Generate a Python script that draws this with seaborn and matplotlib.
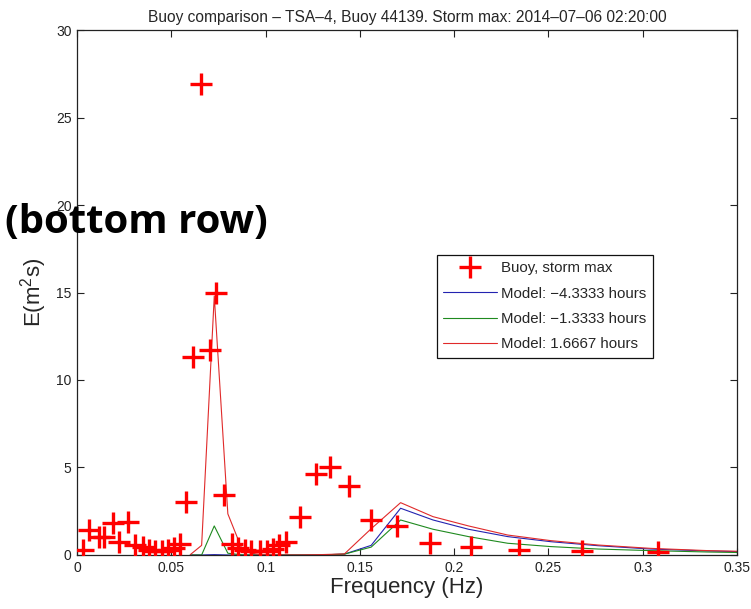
import numpy as np
import pandas as pd
import matplotlib
matplotlib.use("Agg")
import matplotlib.pyplot as plt
from matplotlib.lines import Line2D
import seaborn as sns

# Buoy spectrum at storm maximum
buoy_freq = [0.0030, 0.0065, 0.0115, 0.0145, 0.0190, 0.0225, 0.0270, 0.0310,
             0.0350, 0.0380, 0.0415, 0.0450, 0.0485, 0.0515, 0.0545, 0.0580,
             0.0617, 0.0655, 0.0705, 0.0737, 0.0777, 0.0820, 0.0855, 0.0890,
             0.0925, 0.0970, 0.1005, 0.1040, 0.1070, 0.1110, 0.1185, 0.1265,
             0.1340, 0.1440, 0.1560, 0.1695, 0.1872, 0.2087, 0.2344, 0.2676,
             0.3083]
buoy_energy = [0.30, 1.40, 1.00, 1.00, 1.80, 0.75, 1.90, 0.55,
               0.45, 0.30, 0.20, 0.20, 0.30, 0.40, 0.65, 3.00,
               11.30, 26.90, 11.70, 14.95, 3.45, 0.65, 0.40, 0.30,
               0.20, 0.20, 0.20, 0.35, 0.55, 0.75, 2.15, 4.60,
               5.00, 3.95, 2.00, 1.65, 0.70, 0.45, 0.30, 0.20,
               0.15]

# Model spectra (log-spaced frequency bins)
model_freq = [0.0601, 0.0661, 0.0728, 0.0800, 0.0880, 0.0969, 0.1065, 0.1172,
              0.1289, 0.1418, 0.1560, 0.1716, 0.1888, 0.2076, 0.2284, 0.2512,
              0.2763, 0.3040, 0.3344, 0.3678]
model_m433 = [0.00, 0.00, 0.02, 0.00, 0.00, 0.00, 0.00, 0.00,
              0.00, 0.05, 0.55, 2.67, 2.00, 1.47, 1.05, 0.76,
              0.53, 0.34, 0.23, 0.15]
model_m133 = [0.00, 0.00, 1.66, 0.10, 0.00, 0.00, 0.00, 0.00,
              0.00, 0.05, 0.45, 2.00, 1.47, 1.05, 0.67, 0.48,
              0.34, 0.25, 0.17, 0.11]
model_p167 = [0.02, 0.55, 14.80, 2.35, 0.20, 0.02, 0.00, 0.00,
              0.02, 0.06, 1.50, 2.99, 2.19, 1.66, 1.14, 0.82,
              0.57, 0.38, 0.25, 0.17]

model_labels = ["Model: \u22124.3333 hours", "Model: \u22121.3333 hours",
                "Model: 1.6667 hours"]
model_colors = ["#2323b0", "#1f8a1f", "#e02a2a"]

x_ticks = [0, 0.05, 0.1, 0.15, 0.2, 0.25, 0.3, 0.35]
x_tick_labels = ["0", "0.05", "0.1", "0.15", "0.2", "0.25", "0.3", "0.35"]
y_ticks = [0, 5, 10, 15, 20, 25, 30]

sns.set_style("ticks")
plt.rcParams["font.family"] = ["Liberation Sans", "DejaVu Sans"]
plt.rcParams["mathtext.fontset"] = "custom"
plt.rcParams["mathtext.rm"] = "Liberation Sans"
plt.rcParams["mathtext.it"] = "Liberation Sans"

fig = plt.figure(figsize=(7.51, 6.09), dpi=100)
ax = fig.add_axes([0.1025, 0.0887, 0.8789, 0.8620])

models = pd.DataFrame({
    "freq": model_freq * 3,
    "energy": model_m433 + model_m133 + model_p167,
    "run": [model_labels[0]] * len(model_freq)
           + [model_labels[1]] * len(model_freq)
           + [model_labels[2]] * len(model_freq),
})
sns.lineplot(data=models, x="freq", y="energy", hue="run",
             palette=dict(zip(model_labels, model_colors)),
             hue_order=model_labels, sort=False, estimator=None,
             linewidth=0.8, legend=False, ax=ax, zorder=2)

buoy = pd.DataFrame({"freq": buoy_freq, "energy": buoy_energy})
sns.scatterplot(data=buoy, x="freq", y="energy", marker="+", color="#ff0000",
                s=240, linewidth=2.4, legend=False, ax=ax, zorder=3)

ax.set_xlim(0, 0.35)
ax.set_ylim(0, 30)
ax.set_xticks(x_ticks)
ax.set_xticklabels(x_tick_labels)
ax.set_yticks(y_ticks)
ax.tick_params(direction="in", length=5, width=0.8, top=True, right=True,
               labelsize=10, colors="#222222", pad=4)
for side in ax.spines.values():
    side.set_linewidth(0.9)
    side.set_color("#222222")

ax.set_xlabel("Frequency (Hz)", fontsize=16, labelpad=2)
ax.set_ylabel("E(m$^2$s)", fontsize=16, labelpad=5)
ax.set_title("Buoy comparison \u2013 TSA\u20134, Buoy 44139. Storm max: "
             "2014\u201307\u201306 02:20:00", fontsize=11.2, pad=6)

handles = [Line2D([], [], color="#ff0000", marker="+", linestyle="none",
                  markersize=16, markeredgewidth=2.4)]
handles += [Line2D([], [], color=c, linewidth=0.8) for c in model_colors]
leg = ax.legend(handles, ["Buoy, storm max"] + model_labels,
                loc="upper left", bbox_to_anchor=(0.545, 0.572),
                fontsize=10.8, frameon=True, fancybox=False,
                edgecolor="#111111", framealpha=1, handlelength=3.6,
                handletextpad=0.25, labelspacing=0.75, borderpad=0.45,
                borderaxespad=0)
leg.get_frame().set_linewidth(0.9)

fig.text(0.006, 0.618, "(bottom row)", fontsize=29, fontweight="bold",
         family=["Open Sans", "DejaVu Sans"], color="black", va="baseline",
         ha="left")

fig.savefig("out.png", dpi=100)
